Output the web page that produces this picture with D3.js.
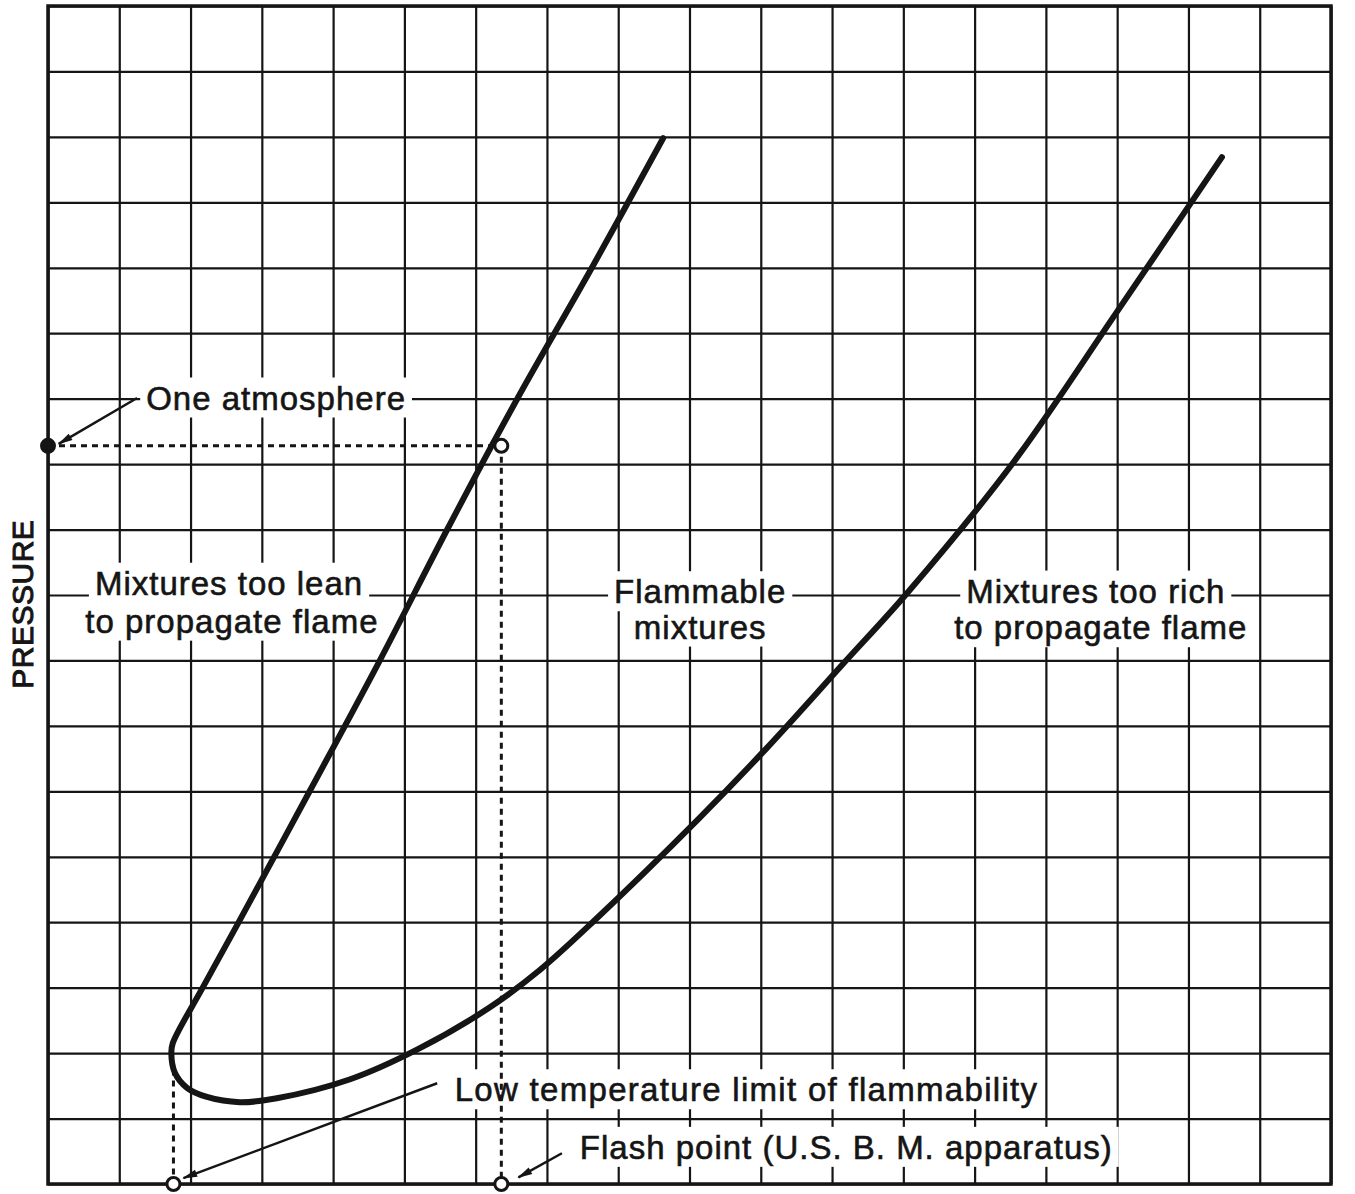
<!DOCTYPE html>
<html>
<head>
<meta charset="utf-8">
<script src="https://cdn.jsdelivr.net/npm/d3@7"></script>
<style>
body { margin: 0; background: #fff; }
text { font-family: "Liberation Sans", Arial, sans-serif; fill: #151515; stroke: #151515; stroke-width: 0.6px; }
</style>
</head>
<body>
<div id="chart"></div>
<script>
// grid divisions (the original has no numeric ticks)
var xTicks = d3.range(0, 19);
var yTicks = d3.range(0, 19);

// flammability limit, one continuous curve in grid units:
// lean limit coming down, the low-temperature hook, then the rich limit going up
var limitX = [8.63, 7.63, 6.59, 5.61, 4.66, 3.68, 2.67, 2.17,
              1.75, 1.73, 1.78, 1.95, 2.23, 2.69, 3.21, 4.24, 5.19, 6.20, 6.90,
              7.67, 9.11, 10.10, 11.14, 12.07, 13.54, 14.98, 16.47];
var limitY = [15.98, 14.00, 12.01, 10.02, 8.01, 6.02, 3.99, 3.00,
              2.15, 2.00, 1.70, 1.47, 1.33, 1.25, 1.31, 1.60, 2.06, 2.70, 3.27,
              4.03, 5.56, 6.68, 7.93, 9.05, 11.02, 13.30, 15.69];

// reference levels
var oneAtmosphere = 11.28;
var flashPoint = 6.36;
var lowTempLimit = 1.76;
var lowTempTop = 1.75;

// label texts
var labelText = [
  "One atmosphere",
  "Mixtures too lean", "to propagate flame",
  "Flammable", "mixtures",
  "Mixtures too rich", "to propagate flame",
  "Low temperature limit of flammability",
  "Flash point (U.S. B. M. apparatus)"
];
var yLabel = "PRESSURE";

var width = 1355, height = 1194;
var x = d3.scaleLinear().domain([0, 18]).range([48, 1331]);
var y = d3.scaleLinear().domain([0, 18]).range([1184, 6]);

var svg = d3.select("#chart").append("svg")
  .attr("width", width)
  .attr("height", height);

svg.append("defs").append("marker")
  .attr("id", "arrow")
  .attr("viewBox", "0 0 12 8")
  .attr("refX", 11).attr("refY", 4)
  .attr("markerWidth", 17).attr("markerHeight", 10)
  .attr("markerUnits", "userSpaceOnUse")
  .attr("orient", "auto")
  .append("path")
  .attr("d", "M0,1 L12,4 L0,7 Z")
  .attr("fill", "#151515");

// grid
svg.append("g")
  .attr("transform", "translate(0," + y(0) + ")")
  .call(d3.axisBottom(x).tickValues(xTicks).tickSize(-(y(0) - y(18))).tickFormat(""))
  .call(function(g) { g.select(".domain").remove(); });
svg.append("g")
  .attr("transform", "translate(" + x(0) + ",0)")
  .call(d3.axisLeft(y).tickValues(yTicks).tickSize(-(x(18) - x(0))).tickFormat(""))
  .call(function(g) { g.select(".domain").remove(); });
svg.selectAll(".tick line").attr("stroke", "#151515").attr("stroke-width", 2.2);

svg.append("rect")
  .attr("x", x(0)).attr("y", y(18))
  .attr("width", x(18) - x(0)).attr("height", y(0) - y(18))
  .attr("fill", "none").attr("stroke", "#151515").attr("stroke-width", 3.5);

// labels, each on a white patch that breaks the grid
var labelPos = [
  [3.20, 12.01], [2.54, 9.18], [2.58, 8.60], [9.15, 9.05], [9.15, 8.51],
  [14.70, 9.06], [14.77, 8.50], [9.80, 1.44], [11.20, 0.56]
];
var boxes = svg.append("g");
var texts = svg.append("g");
labelText.forEach(function(t, i) {
  var el = texts.append("text")
    .attr("x", x(labelPos[i][0]))
    .attr("y", y(labelPos[i][1]))
    .attr("text-anchor", "middle")
    .attr("dominant-baseline", "central")
    .attr("font-size", 33)
    .attr("letter-spacing", i === 7 ? 1.3 : 1)
    .text(t);
  var b = el.node().getBBox();
  var pad = i === 7 ? 3 : 6;
  boxes.append("rect")
    .attr("x", b.x - pad).attr("y", b.y - 2)
    .attr("width", b.width + 2 * pad).attr("height", b.height + 3)
    .attr("fill", "#fff");
});

svg.append("text")
  .attr("transform", "translate(33," + y(8.86) + ") rotate(-90)")
  .attr("text-anchor", "middle")
  .attr("font-size", 30)
  .attr("letter-spacing", 0.5)
  .style("stroke-width", "1px")
  .text(yLabel);

// dotted construction lines
var dotted = svg.append("g")
  .attr("stroke", "#151515")
  .attr("stroke-width", 3)
  .attr("stroke-dasharray", "6,5")
  .attr("fill", "none");
dotted.append("line")
  .attr("x1", x(0)).attr("y1", y(oneAtmosphere))
  .attr("x2", x(flashPoint)).attr("y2", y(oneAtmosphere));
dotted.append("line")
  .attr("x1", x(flashPoint)).attr("y1", y(oneAtmosphere))
  .attr("x2", x(flashPoint)).attr("y2", y(0));
dotted.append("line")
  .attr("x1", x(lowTempLimit)).attr("y1", y(lowTempTop))
  .attr("x2", x(lowTempLimit)).attr("y2", y(0));

// the limit curve
var pts = limitX.map(function(d, i) { return [d, limitY[i]]; });
var line = d3.line()
  .x(function(d) { return x(d[0]); })
  .y(function(d) { return y(d[1]); })
  .curve(d3.curveCatmullRom.alpha(0.5));
svg.append("path")
  .attr("d", line(pts))
  .attr("fill", "none")
  .attr("stroke", "#151515")
  .attr("stroke-width", 6)
  .attr("stroke-linecap", "round")
  .attr("stroke-linejoin", "round");

// marked points
var marks = [
  [0, oneAtmosphere, true],
  [flashPoint, oneAtmosphere, false],
  [lowTempLimit, 0, false],
  [flashPoint, 0, false]
];
svg.append("g").selectAll("circle")
  .data(marks)
  .join("circle")
  .attr("cx", function(d) { return x(d[0]); })
  .attr("cy", function(d) { return y(d[1]); })
  .attr("r", 6.5)
  .attr("fill", function(d) { return d[2] ? "#151515" : "#fff"; })
  .attr("stroke", "#151515")
  .attr("stroke-width", 3);

// leader arrows from the labels
var leaders = [
  [[1.25, 12.01], [0.15, 11.31]],
  [[5.46, 1.54], [1.90, 0.09]],
  [[7.21, 0.47], [6.60, 0.10]]
];
svg.append("g").selectAll("line")
  .data(leaders)
  .join("line")
  .attr("x1", function(d) { return x(d[0][0]); })
  .attr("y1", function(d) { return y(d[0][1]); })
  .attr("x2", function(d) { return x(d[1][0]); })
  .attr("y2", function(d) { return y(d[1][1]); })
  .attr("stroke", "#151515")
  .attr("stroke-width", 2.5)
  .attr("marker-end", "url(#arrow)");
</script>
</body>
</html>
